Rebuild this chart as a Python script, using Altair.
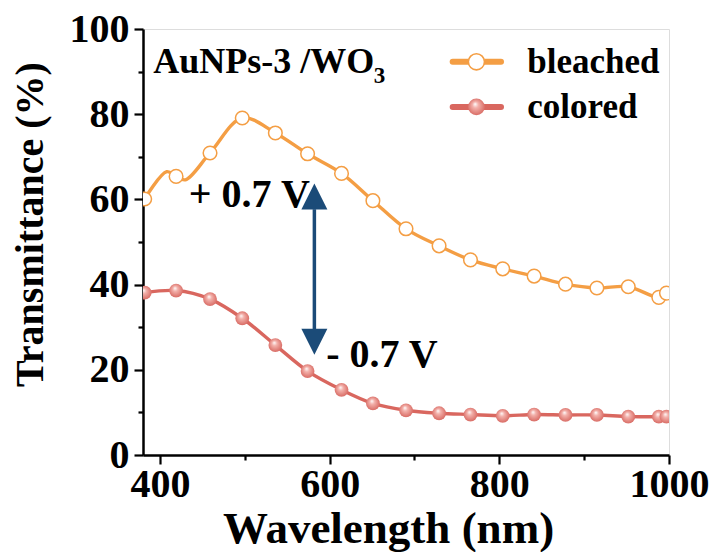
import altair as alt
import pandas as pd

# Transmittance spectra of the AuNPs-3 /WO3 film
wavelength = [382, 419, 459, 497, 536, 574, 614, 651, 690, 729, 766, 804, 841, 878, 915, 952, 988, 997]
bleached = [60.1, 65.4, 70.9, 79.1, 75.6, 70.7, 66.1, 59.7, 53.1, 49.1, 45.8, 43.7, 42.0, 40.1, 39.2, 39.5, 37.0, 38.0]
colored = [38.1, 38.6, 36.6, 32.1, 25.8, 19.7, 15.3, 12.1, 10.5, 9.8, 9.5, 9.2, 9.5, 9.4, 9.4, 9.0, 9.0, 9.0]

# additional samples of the bleached trace (no symbol drawn)
bleached_extra_x = [408, 430]
bleached_extra_y = [66.5, 64.6]

# annotation and legend placement (data units)
arrow_x = [582]
arrow_shaft = [57.7, 29.5]
arrow_heads = [60.7, 26.6]
volt_labels = ["+ 0.7 V", "- 0.7 V"]
volt_x = [434, 596]
volt_y = [58.3, 20.7]
legend_labels = ["bleached", "colored"]
legend_y = [92.3, 81.7]
legend_line_x = [745, 802]
legend_symbol_x = 773
legend_text_x = 833

ORANGE = "#F49E44"
RED = "#D9675F"
NAVY = "#1B4B78"
FONT = "Liberation Serif"

xs = alt.Scale(domain=[380, 1000], nice=False, zero=False)
ys = alt.Scale(domain=[0, 100], nice=False)

x_axis = alt.Axis(
    values=list(range(400, 1001, 100)), format="d",
    labelExpr="datum.value % 200 == 0 ? datum.label : ''",
    tickSize={"condition": {"test": "datum.value % 200 == 0", "value": 9}, "value": 5},
    tickWidth=2.2, tickColor="black", domainColor="black", domainWidth=2.5,
    labelFont=FONT, labelFontWeight="bold", labelFontSize=40, labelColor="black",
    labelPadding=0, grid=False, labelFlush=False, labelOverlap=False,
    title="Wavelength (nm)", titleFont=FONT, titleFontWeight="bold",
    titleFontSize=45, titleColor="black", titleX=245, titleY=73,
    titleBaseline="middle",
)
y_axis = alt.Axis(
    values=list(range(0, 101, 10)), format="d",
    labelExpr="datum.value % 20 == 0 ? datum.label : ''",
    tickSize={"condition": {"test": "datum.value % 20 == 0", "value": 9}, "value": 5},
    tickWidth=2.2, tickColor="black", domainColor="black", domainWidth=2.5,
    labelFont=FONT, labelFontWeight="bold", labelFontSize=40, labelColor="black",
    labelPadding=5, grid=False, labelFlush=False, labelOverlap=False,
    title="Transmittance (%)", titleFont=FONT, titleFontWeight="bold",
    titleFontSize=40, titleColor="black", titlePadding=19, titleY=195,
)


def X(field):
    return alt.X(f"{field}:Q", scale=xs, axis=x_axis)


def Y(field):
    return alt.Y(f"{field}:Q", scale=ys, axis=y_axis)


spectra = pd.DataFrame({"wl": wavelength, "bleached": bleached, "colored": colored})
bleached_line = pd.concat([
    spectra[["wl", "bleached"]],
    pd.DataFrame({"wl": bleached_extra_x, "bleached": bleached_extra_y}),
]).sort_values("wl")

base = alt.Chart(spectra)

bleach_curve = alt.Chart(bleached_line).mark_line(
    color=ORANGE, strokeWidth=3.4, interpolate="catmull-rom", clip=True
).encode(x=X("wl"), y=Y("bleached"), order="wl:Q")
bleach_pts = base.mark_point(
    shape="circle", size=185, filled=True, fill="white", stroke=ORANGE,
    strokeWidth=1.5, opacity=1, clip=True
).encode(x=X("wl"), y=Y("bleached"))

color_curve = base.mark_line(
    color=RED, strokeWidth=3.4, interpolate="catmull-rom", clip=True
).encode(x=X("wl"), y=Y("colored"))

sphere = alt.RadialGradient(
    gradient="radial",
    stops=[
        alt.GradientStop(offset=0, color="#ffffff"),
        alt.GradientStop(offset=0.3, color="#f3b1ab"),
        alt.GradientStop(offset=1, color="#d35d56"),
    ],
    x1=0.42, y1=0.32, r1=0, x2=0.5, y2=0.5, r2=0.6,
)
color_pts = base.mark_point(
    shape="circle", size=190, filled=True, fill=sphere, strokeWidth=0,
    opacity=1, clip=True
).encode(x=X("wl"), y=Y("colored"))

# double-headed arrow between the two states
shaft = alt.Chart(pd.DataFrame({"x": arrow_x, "y": [arrow_shaft[0]], "y2": [arrow_shaft[1]]})).mark_rule(
    color=NAVY, strokeWidth=3.5
).encode(x=X("x"), y=Y("y"), y2="y2:Q")
head_up = alt.Chart(pd.DataFrame({"x": arrow_x, "y": [arrow_heads[0]]})).mark_point(
    shape="M0,-1L1,1L-1,1Z", size=676, filled=True, color=NAVY, opacity=1
).encode(x=X("x"), y=Y("y"))
head_down = alt.Chart(pd.DataFrame({"x": arrow_x, "y": [arrow_heads[1]]})).mark_point(
    shape="M0,1L1,-1L-1,-1Z", size=676, filled=True, color=NAVY, opacity=1
).encode(x=X("x"), y=Y("y"))

volts = alt.Chart(pd.DataFrame({"x": volt_x, "y": volt_y, "t": volt_labels})).mark_text(
    font=FONT, fontWeight="bold", fontSize=40, align="left", baseline="alphabetic", color="black"
).encode(x=X("x"), y=Y("y"), text="t:N")

# sample name with subscript
name = alt.Chart(pd.DataFrame({"x": [392], "y": [89.6], "t": ["AuNPs-3 /WO"]})).mark_text(
    font=FONT, fontWeight="bold", fontSize=36, align="left", baseline="alphabetic", color="black"
).encode(x=X("x"), y=Y("y"), text="t:N")
name_sub = alt.Chart(pd.DataFrame({"x": [652], "y": [87.4], "t": ["3"]})).mark_text(
    font=FONT, fontWeight="bold", fontSize=23, align="left", baseline="alphabetic", color="black"
).encode(x=X("x"), y=Y("y"), text="t:N")

# hand-built legend
leg_lines = pd.DataFrame({
    "x": legend_line_x * 2,
    "y": [legend_y[0]] * 2 + [legend_y[1]] * 2,
    "s": [legend_labels[0]] * 2 + [legend_labels[1]] * 2,
})
leg_line = alt.Chart(leg_lines).mark_line(strokeWidth=6, strokeCap="round").encode(
    x=X("x"), y=Y("y"),
    detail="s:N",
    color=alt.Color("s:N", scale=alt.Scale(domain=legend_labels, range=[ORANGE, RED]), legend=None),
)
leg_b = alt.Chart(pd.DataFrame({"x": [legend_symbol_x], "y": [legend_y[0]]})).mark_point(
    shape="circle", size=260, filled=True, fill="white", stroke=ORANGE, strokeWidth=1.6, opacity=1
).encode(x=X("x"), y=Y("y"))
leg_c = alt.Chart(pd.DataFrame({"x": [legend_symbol_x], "y": [legend_y[1]]})).mark_point(
    shape="circle", size=280, filled=True, fill=sphere, strokeWidth=0, opacity=1
).encode(x=X("x"), y=Y("y"))
leg_text = alt.Chart(pd.DataFrame({"x": [legend_text_x] * 2, "y": legend_y, "t": legend_labels})).mark_text(
    font=FONT, fontWeight="bold", fontSize=35, align="left", baseline="middle", color="black"
).encode(x=X("x"), y=Y("y"), text="t:N")

chart = alt.layer(
    bleach_curve, color_curve, bleach_pts, color_pts,
    shaft, head_up, head_down, volts, name, name_sub,
    leg_line, leg_b, leg_c, leg_text,
).properties(
    width=526, height=426,
    autosize=alt.AutoSizeParams(type="none"),
    padding={"left": 143, "top": 29, "right": 46, "bottom": 97},
).configure_view(
    stroke="black", strokeWidth=2.5
).configure(background="white")

chart.save("out.html", embed_options={"renderer": "svg", "actions": False})
